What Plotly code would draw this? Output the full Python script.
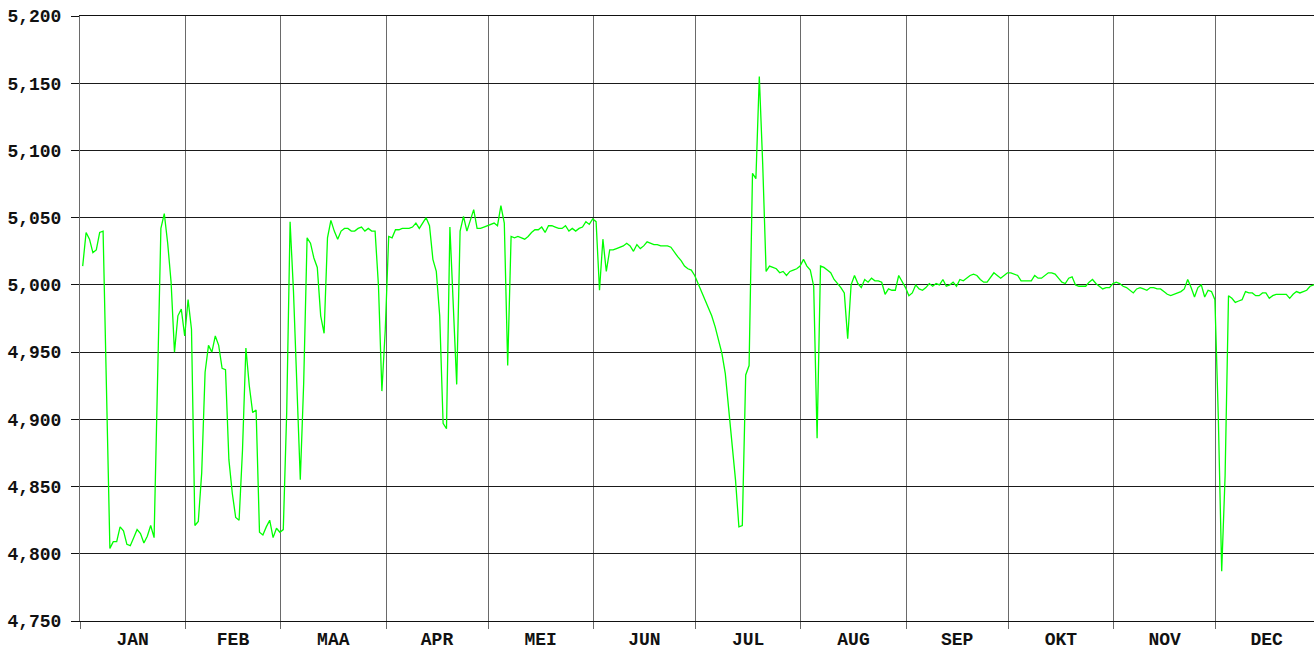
import pandas as pd
import plotly.graph_objects as go

# Daily values per month
jan = [5014, 5039, 5034, 5024, 5026, 5039, 5040, 4922, 4804, 4809, 4809, 4820, 4817, 4807, 4806, 4812,
       4818, 4815, 4808, 4813, 4821, 4812, 4930, 5042, 5053, 5031, 5002, 4950, 4977, 4982, 4962]
feb = [4989, 4967, 4821, 4824, 4860, 4935, 4955, 4950, 4962, 4955, 4938, 4937, 4870, 4845, 4827, 4825,
       4877, 4953, 4925, 4905, 4907, 4816, 4814, 4820, 4825, 4812, 4819, 4816]
maa = [4818, 4905, 5047, 4995, 4925, 4855, 4927, 5035, 5031, 5020, 5013, 4977, 4964, 5035, 5048, 5040,
       5034, 5040, 5042, 5042, 5040, 5040, 5042, 5043, 5040, 5042, 5040, 5040, 4999, 4921, 4967]
apr = [5036, 5035, 5041, 5041, 5042, 5042, 5042, 5043, 5046, 5042, 5046, 5050, 5044, 5019, 5010, 4977,
       4897, 4893, 5043, 4984, 4926, 5040, 5051, 5040, 5048, 5056, 5042, 5042, 5043, 5044]
mei = [5045, 5046, 5044, 5059, 5046, 4940, 5036, 5035, 5036, 5035, 5034, 5036, 5039, 5041, 5041, 5043,
       5039, 5044, 5044, 5043, 5042, 5042, 5044, 5040, 5042, 5040, 5042, 5043, 5047, 5045, 5049]
jun = [5047, 4996, 5034, 5010, 5026, 5026, 5027, 5028, 5029, 5031, 5029, 5025, 5030, 5027, 5029, 5032,
       5031, 5030, 5030, 5029, 5029, 5029, 5028, 5024, 5021, 5018, 5014, 5012, 5011, 5007]
jul = [5001, 4996, 4990, 4984, 4977, 4969, 4959, 4949, 4934, 4909, 4882, 4855, 4820, 4821, 4933, 4940,
       5083, 5079, 5155, 5090, 5010, 5014, 5013, 5012, 5009, 5010, 5007, 5010, 5011, 5012, 5014]
aug = [5019, 5014, 5011, 4999, 4886, 5014, 5013, 5011, 5009, 5004, 5001, 4998, 4994, 4960, 5000, 5007,
       5001, 4998, 5004, 5002, 5005, 5003, 5003, 5002, 4993, 4997, 4996, 4996, 5007, 5003, 4998]
sep = [4992, 4994, 5000, 4997, 4996, 4998, 5001, 4999, 5001, 5000, 5004, 4999, 5000, 5002, 4999, 5004,
       5003, 5005, 5007, 5008, 5007, 5004, 5002, 5002, 5006, 5009, 5007, 5005, 5007, 5009]
okt = [5009, 5008, 5007, 5003, 5003, 5003, 5003, 5007, 5005, 5005, 5007, 5009, 5009, 5008, 5005, 5002,
       5001, 5005, 5006, 5000, 4999, 4999, 4999, 5002, 5004, 5001, 4999, 4997, 4998, 4998, 5001]
nov = [5002, 5001, 4999, 4998, 4996, 4994, 4997, 4998, 4997, 4996, 4998, 4998, 4997, 4997, 4995, 4993,
       4992, 4993, 4994, 4995, 4997, 5004, 4998, 4991, 4998, 5000, 4991, 4996, 4995, 4989]
dec = [4902, 4787, 4858, 4992, 4990, 4987, 4988, 4989, 4995, 4994, 4994, 4992, 4992, 4994, 4994, 4990,
       4992, 4993, 4993, 4993, 4993, 4990, 4993, 4995, 4994, 4995, 4996, 4999, 5000, 5001, 5002]

month_labels = {"Jan": "JAN", "Feb": "FEB", "Mar": "MAA", "Apr": "APR", "May": "MEI", "Jun": "JUN",
                "Jul": "JUL", "Aug": "AUG", "Sep": "SEP", "Oct": "OKT", "Nov": "NOV", "Dec": "DEC"}

values = jan + feb + maa + apr + mei + jun + jul + aug + sep + okt + nov + dec
dates = pd.date_range("2023-01-01 19:00", periods=len(values), freq="D")

fig = go.Figure()
fig.add_trace(go.Scatter(x=dates, y=values, mode="lines",
                         line=dict(color="#00ff00", width=1.3), hoverinfo="skip"))

tickfont = dict(family="Liberation Mono", size=18, color="#111111", weight="bold")

fig.update_layout(
    width=1314, height=647,
    margin=dict(l=80, r=0, t=16, b=26, autoexpand=False),
    paper_bgcolor="white", plot_bgcolor="white",
    showlegend=False,
)
fig.update_xaxes(
    type="date",
    range=["2023-01-01", "2023-12-29 22:30"],
    dtick="M1", tick0="2023-01-01",
    tickformat="%b", ticklabelmode="period", labelalias=month_labels,
    showgrid=True, gridcolor="#6a6a6a", gridwidth=1,
    ticks="outside", ticklen=7, tickcolor="#6a6a6a", tickwidth=1,
    showline=True, linecolor="#111111", linewidth=1, mirror=True,
    tickfont=tickfont, automargin=False, zeroline=False,
    ticklabelstandoff=-6,
)
fig.update_yaxes(
    range=[4750, 5200], dtick=50, tick0=4750, tickformat=",d",
    showgrid=True, gridcolor="#1a1a1a", gridwidth=1,
    ticks="outside", ticklen=8, tickcolor="#111111", tickwidth=1,
    showline=True, linecolor="#6a6a6a", linewidth=1,
    tickfont=tickfont, automargin=False, zeroline=False,
    ticklabelstandoff=6,
)

fig.write_html("out.html", config={"displayModeBar": False},
               post_script="document.body.style.margin='0px';document.body.style.overflow='hidden';")
